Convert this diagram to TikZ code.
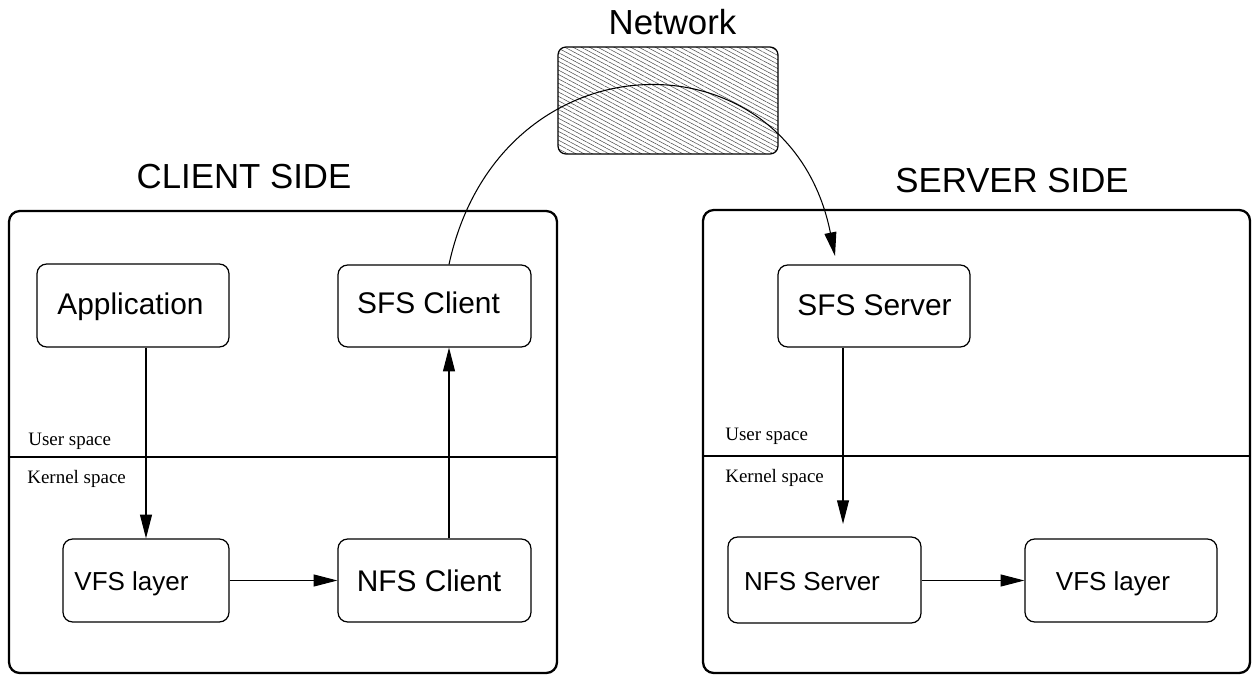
\documentclass[tikz,border=0pt]{standalone}
\usepackage{fontspec}
\setmainfont{Liberation Sans}
\newfontfamily\serifx{Liberation Serif}
\usetikzlibrary{arrows.meta,patterns.meta,calc}
\begin{document}
\begin{tikzpicture}[x=0.02cm,y=-0.02cm,
  box/.style={draw,line width=0.7pt,rounded corners=5.5pt,inner sep=0pt},
  outerbox/.style={draw,line width=1.3pt,rounded corners=6pt,inner sep=0pt},
  conn/.style={line width=0.6pt,-{Triangle[length=13.5pt,width=6.8pt]}},
  bigtxt/.style={anchor=base,inner sep=0pt,font=\fontsize{17}{20}\selectfont},
  midtxt/.style={anchor=base,inner sep=0pt,font=\fontsize{14.8}{18}\selectfont},
  titletxt/.style={anchor=base,inner sep=0pt,font=\fontsize{19.8}{24}\selectfont},
  smalltxt/.style={anchor=base west,inner sep=0pt,font=\serifx\fontsize{10.8}{13}\selectfont}]
\useasboundingbox (0,0) rectangle (1253,675);

% outer side boxes
\node[outerbox,minimum width=10.96cm,minimum height=9.24cm] (client) at (283,442) {};
\node[outerbox,minimum width=10.94cm,minimum height=9.26cm] (server) at (976.5,441.5) {};
\node[titletxt] (clientT) at (244,189) {CLIENT SIDE};
\node[titletxt] (serverT) at (1012,193) {SERVER SIDE};

% user / kernel separators
\draw[line width=0.6pt] (client.west |- 0,457) -- (client.east |- 0,457);
\draw[line width=0.6pt] (server.west |- 0,456) -- (server.east |- 0,456);
\node[smalltxt] (usL) at (28,445) {User space};
\node[smalltxt] (ksL) at (27,483) {Kernel space};
\node[smalltxt] (usR) at (725,440) {User space};
\node[smalltxt] (ksR) at (725,482) {Kernel space};

% network
\node[titletxt] (netT) at (672.5,35) {Network};
\node[draw,line width=0.7pt,rounded corners=4.5pt,minimum width=4.4cm,minimum height=2.14cm,
  pattern={Lines[angle=-28,distance=2.2pt,line width=0.3pt]},pattern color=black!70] (net) at (668,100.5) {};

% client boxes
\node[box,minimum width=3.84cm,minimum height=1.66cm] (app) at (133,305.5) {};
\node[bigtxt] (appT) at (130.5,315) {Application};
\node[box,minimum width=3.86cm,minimum height=1.64cm] (sfsC) at (434.5,306) {};
\node[bigtxt] (sfsCT) at (428.5,314) {SFS Client};
\node[box,minimum width=3.32cm,minimum height=1.66cm] (vfsL) at (146,580.5) {};
\node[midtxt] (vfsLT) at (131.5,590.7) {VFS layer};
\node[box,minimum width=3.86cm,minimum height=1.66cm] (nfsC) at (434.5,580.5) {};
\node[bigtxt] (nfsCT) at (429,591.5) {NFS Client};

% server boxes
\node[box,minimum width=3.84cm,minimum height=1.64cm] (sfsS) at (874,306) {};
\node[bigtxt] (sfsST) at (874.5,316) {SFS Server};
\node[box,minimum width=3.86cm,minimum height=1.72cm] (nfsS) at (824.5,580) {};
\node[midtxt] (nfsST) at (812,590) {NFS Server};
\node[box,minimum width=3.84cm,minimum height=1.66cm] (vfsR) at (1121,580.5) {};
\node[midtxt] (vfsRT) at (1113,590.7) {VFS layer};

% helper coordinates
\coordinate (upC) at ($(nfsC.north)+(14.5,0)$);
\coordinate (sfsCtop) at ($(sfsC.north)+(14.5,0)$);
\coordinate (tipS) at (835,256);
\coordinate (sfsSbot) at ($(sfsS.south)+(-31,0)$);
\coordinate (tipN) at (843,524);

% connectors
\draw[conn] (app.south -| vfsL.north) -- (vfsL.north);
\draw[conn] (vfsL.east) -- (vfsL.east -| nfsC.west);
\draw[conn] (upC) -- (upC |- sfsC.south);
\draw[conn] (sfsCtop) .. controls (500,30) and (790,30) .. (tipS);
\draw[conn] (sfsSbot) -- (tipN);
\draw[conn] (nfsS.east |- vfsR.west) -- (vfsR.west);
\end{tikzpicture}
\end{document}
